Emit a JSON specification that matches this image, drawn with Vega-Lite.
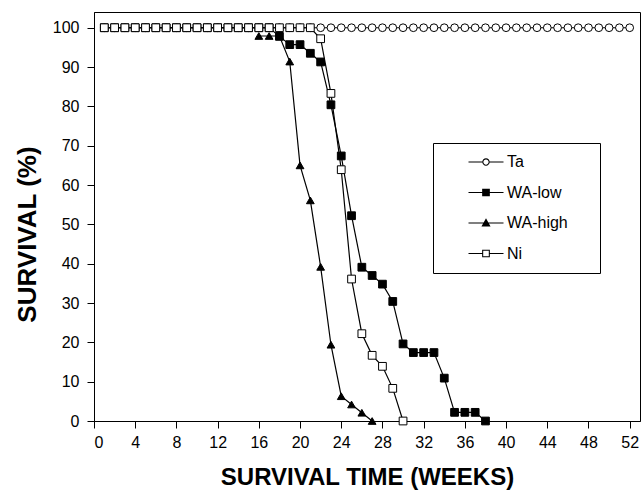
{
  "$schema": "https://vega.github.io/schema/vega-lite/v6.json",
  "width": 546,
  "height": 409,
  "autosize": {"type": "none"},
  "padding": {"left": 94, "top": 12, "right": 2, "bottom": 81},
  "background": "white",
  "config": {
    "font": "Liberation Sans",
    "view": {"stroke": "black", "strokeWidth": 1},
    "axis": {
      "grid": false,
      "domainColor": "black",
      "tickColor": "black",
      "labelColor": "black",
      "titleColor": "black",
      "labelFont": "Liberation Sans",
      "titleFont": "Liberation Sans",
      "labelFontSize": 16,
      "titleFontSize": 24,
      "titleFontWeight": "bold",
      "tickSize": 7
    }
  },
  "data": {
    "values": [
      {"series": "Ta", "week": 1, "survival": 100}, {"series": "Ta", "week": 2, "survival": 100}, {"series": "Ta", "week": 3, "survival": 100}, {"series": "Ta", "week": 4, "survival": 100},
      {"series": "Ta", "week": 5, "survival": 100}, {"series": "Ta", "week": 6, "survival": 100}, {"series": "Ta", "week": 7, "survival": 100}, {"series": "Ta", "week": 8, "survival": 100},
      {"series": "Ta", "week": 9, "survival": 100}, {"series": "Ta", "week": 10, "survival": 100}, {"series": "Ta", "week": 11, "survival": 100}, {"series": "Ta", "week": 12, "survival": 100},
      {"series": "Ta", "week": 13, "survival": 100}, {"series": "Ta", "week": 14, "survival": 100}, {"series": "Ta", "week": 15, "survival": 100}, {"series": "Ta", "week": 16, "survival": 100},
      {"series": "Ta", "week": 17, "survival": 100}, {"series": "Ta", "week": 18, "survival": 100}, {"series": "Ta", "week": 19, "survival": 100}, {"series": "Ta", "week": 20, "survival": 100},
      {"series": "Ta", "week": 21, "survival": 100}, {"series": "Ta", "week": 22, "survival": 100}, {"series": "Ta", "week": 23, "survival": 100}, {"series": "Ta", "week": 24, "survival": 100},
      {"series": "Ta", "week": 25, "survival": 100}, {"series": "Ta", "week": 26, "survival": 100}, {"series": "Ta", "week": 27, "survival": 100}, {"series": "Ta", "week": 28, "survival": 100},
      {"series": "Ta", "week": 29, "survival": 100}, {"series": "Ta", "week": 30, "survival": 100}, {"series": "Ta", "week": 31, "survival": 100}, {"series": "Ta", "week": 32, "survival": 100},
      {"series": "Ta", "week": 33, "survival": 100}, {"series": "Ta", "week": 34, "survival": 100}, {"series": "Ta", "week": 35, "survival": 100}, {"series": "Ta", "week": 36, "survival": 100},
      {"series": "Ta", "week": 37, "survival": 100}, {"series": "Ta", "week": 38, "survival": 100}, {"series": "Ta", "week": 39, "survival": 100}, {"series": "Ta", "week": 40, "survival": 100},
      {"series": "Ta", "week": 41, "survival": 100}, {"series": "Ta", "week": 42, "survival": 100}, {"series": "Ta", "week": 43, "survival": 100}, {"series": "Ta", "week": 44, "survival": 100},
      {"series": "Ta", "week": 45, "survival": 100}, {"series": "Ta", "week": 46, "survival": 100}, {"series": "Ta", "week": 47, "survival": 100}, {"series": "Ta", "week": 48, "survival": 100},
      {"series": "Ta", "week": 49, "survival": 100}, {"series": "Ta", "week": 50, "survival": 100}, {"series": "Ta", "week": 51, "survival": 100}, {"series": "Ta", "week": 52, "survival": 100},
      {"series": "WA-low", "week": 1, "survival": 100}, {"series": "WA-low", "week": 2, "survival": 100}, {"series": "WA-low", "week": 3, "survival": 100}, {"series": "WA-low", "week": 4, "survival": 100},
      {"series": "WA-low", "week": 5, "survival": 100}, {"series": "WA-low", "week": 6, "survival": 100}, {"series": "WA-low", "week": 7, "survival": 100}, {"series": "WA-low", "week": 8, "survival": 100},
      {"series": "WA-low", "week": 9, "survival": 100}, {"series": "WA-low", "week": 10, "survival": 100}, {"series": "WA-low", "week": 11, "survival": 100}, {"series": "WA-low", "week": 12, "survival": 100},
      {"series": "WA-low", "week": 13, "survival": 100}, {"series": "WA-low", "week": 14, "survival": 100}, {"series": "WA-low", "week": 15, "survival": 100}, {"series": "WA-low", "week": 16, "survival": 100},
      {"series": "WA-low", "week": 17, "survival": 100}, {"series": "WA-low", "week": 18, "survival": 97.8}, {"series": "WA-low", "week": 19, "survival": 95.7}, {"series": "WA-low", "week": 20, "survival": 95.7},
      {"series": "WA-low", "week": 21, "survival": 93.5}, {"series": "WA-low", "week": 22, "survival": 91.3}, {"series": "WA-low", "week": 23, "survival": 80.4}, {"series": "WA-low", "week": 24, "survival": 67.4},
      {"series": "WA-low", "week": 25, "survival": 52.2}, {"series": "WA-low", "week": 26, "survival": 39.1}, {"series": "WA-low", "week": 27, "survival": 37.0}, {"series": "WA-low", "week": 28, "survival": 34.8},
      {"series": "WA-low", "week": 29, "survival": 30.4}, {"series": "WA-low", "week": 30, "survival": 19.6}, {"series": "WA-low", "week": 31, "survival": 17.4}, {"series": "WA-low", "week": 32, "survival": 17.4},
      {"series": "WA-low", "week": 33, "survival": 17.4}, {"series": "WA-low", "week": 34, "survival": 10.9}, {"series": "WA-low", "week": 35, "survival": 2.2}, {"series": "WA-low", "week": 36, "survival": 2.2},
      {"series": "WA-low", "week": 37, "survival": 2.2}, {"series": "WA-low", "week": 38, "survival": 0},
      {"series": "WA-high", "week": 16, "survival": 97.9}, {"series": "WA-high", "week": 17, "survival": 97.9}, {"series": "WA-high", "week": 18, "survival": 97.9}, {"series": "WA-high", "week": 19, "survival": 91.4},
      {"series": "WA-high", "week": 20, "survival": 65.0}, {"series": "WA-high", "week": 21, "survival": 56.1}, {"series": "WA-high", "week": 22, "survival": 39.2}, {"series": "WA-high", "week": 23, "survival": 19.4},
      {"series": "WA-high", "week": 24, "survival": 6.3}, {"series": "WA-high", "week": 25, "survival": 4.2}, {"series": "WA-high", "week": 26, "survival": 2.1}, {"series": "WA-high", "week": 27, "survival": 0},
      {"series": "Ni", "week": 1, "survival": 100}, {"series": "Ni", "week": 2, "survival": 100}, {"series": "Ni", "week": 3, "survival": 100}, {"series": "Ni", "week": 4, "survival": 100},
      {"series": "Ni", "week": 5, "survival": 100}, {"series": "Ni", "week": 6, "survival": 100}, {"series": "Ni", "week": 7, "survival": 100}, {"series": "Ni", "week": 8, "survival": 100},
      {"series": "Ni", "week": 9, "survival": 100}, {"series": "Ni", "week": 10, "survival": 100}, {"series": "Ni", "week": 11, "survival": 100}, {"series": "Ni", "week": 12, "survival": 100},
      {"series": "Ni", "week": 13, "survival": 100}, {"series": "Ni", "week": 14, "survival": 100}, {"series": "Ni", "week": 15, "survival": 100}, {"series": "Ni", "week": 16, "survival": 100},
      {"series": "Ni", "week": 17, "survival": 100}, {"series": "Ni", "week": 18, "survival": 100}, {"series": "Ni", "week": 19, "survival": 100}, {"series": "Ni", "week": 20, "survival": 100},
      {"series": "Ni", "week": 21, "survival": 100}, {"series": "Ni", "week": 22, "survival": 97.2}, {"series": "Ni", "week": 23, "survival": 83.3}, {"series": "Ni", "week": 24, "survival": 63.9},
      {"series": "Ni", "week": 25, "survival": 36.1}, {"series": "Ni", "week": 26, "survival": 22.2}, {"series": "Ni", "week": 27, "survival": 16.7}, {"series": "Ni", "week": 28, "survival": 13.9},
      {"series": "Ni", "week": 29, "survival": 8.3}, {"series": "Ni", "week": 30, "survival": 0}
    ]
  },
  "encoding": {
    "x": {
      "field": "week", "type": "quantitative",
      "scale": {"domain": [0, 53], "nice": false, "zero": false},
      "axis": {"values": [0, 4, 8, 12, 16, 20, 24, 28, 32, 36, 40, 44, 48, 52], "title": "SURVIVAL TIME (WEEKS)", "labelPadding": 6, "titlePadding": 15}
    },
    "y": {
      "field": "survival", "type": "quantitative",
      "scale": {"domain": [0, 104], "nice": false},
      "axis": {"values": [0, 10, 20, 30, 40, 50, 60, 70, 80, 90, 100], "title": "SURVIVAL (%)", "labelPadding": 8, "titlePadding": 12, "titleFontSize": 26, "titleY": 222}
    }
  },
  "resolve": {"scale": {"shape": "independent"}, "legend": {"shape": "independent"}},
  "layer": [
    {
      "mark": {"type": "line", "color": "black", "strokeWidth": 1.2},
      "encoding": {
        "detail": {"field": "series"},
        "order": {"field": "week"}
      }
    },
    {
      "mark": {"type": "point", "filled": true, "stroke": "black", "strokeWidth": 1, "opacity": 1, "size": 60},
      "encoding": {
        "shape": {
          "field": "series", "type": "nominal",
          "scale": {"domain": ["Ta", "WA-low", "WA-high", "Ni"], "range": ["circle", "square", "triangle-up", "square"]},
          "legend": null
        },
        "fill": {
          "field": "series", "type": "nominal",
          "scale": {"domain": ["Ta", "WA-low", "WA-high", "Ni"], "range": ["white", "black", "black", "white"]},
          "legend": null
        }
      }
    },
    {
      "mark": {"type": "point", "filled": true, "color": "black", "opacity": 0, "size": 49},
      "encoding": {
        "shape": {
          "field": "series", "type": "nominal",
          "scale": {
            "domain": ["Ta", "WA-low", "WA-high", "Ni"],
            "range": [
              "M-5,-0.16H-1V0.16H-5Z M1,-0.16H5V0.16H1Z M-1.05,0A1.05,1.05 0 1,1 1.05,0A1.05,1.05 0 1,1 -1.05,0Z M-0.75,0A0.75,0.75 0 1,0 0.75,0A0.75,0.75 0 1,0 -0.75,0Z",
              "M-5,-0.16H5V0.16H-5Z M-1.1,-1.1H1.1V1.1H-1.1Z",
              "M-5,-0.16H5V0.16H-5Z M0,-1.35L1.3,1H-1.3Z",
              "M-5,-0.16H-1.1V0.16H-5Z M1.1,-0.16H5V0.16H1.1Z M-1.1,-1.1H1.1V1.1H-1.1Z M-0.8,-0.8V0.8H0.8V-0.8Z"
            ]
          },
          "legend": {
            "title": " ",
            "titleOrient": "right",
            "titleFontSize": 1,
            "titlePadding": 21,
            "orient": "none",
            "legendX": 339,
            "legendY": 131,
            "padding": 11,
            "strokeColor": "black",
            "fillColor": "white",
            "symbolSize": 49,
            "symbolOffset": 34,
            "labelOffset": 13,
            "rowPadding": 14.5,
            "labelFont": "Liberation Sans",
            "labelFontSize": 16,
            "labelColor": "black",
            "symbolFillColor": "black",
            "symbolStrokeWidth": 0,
            "symbolOpacity": 1
          }
        }
      }
    }
  ]
}
